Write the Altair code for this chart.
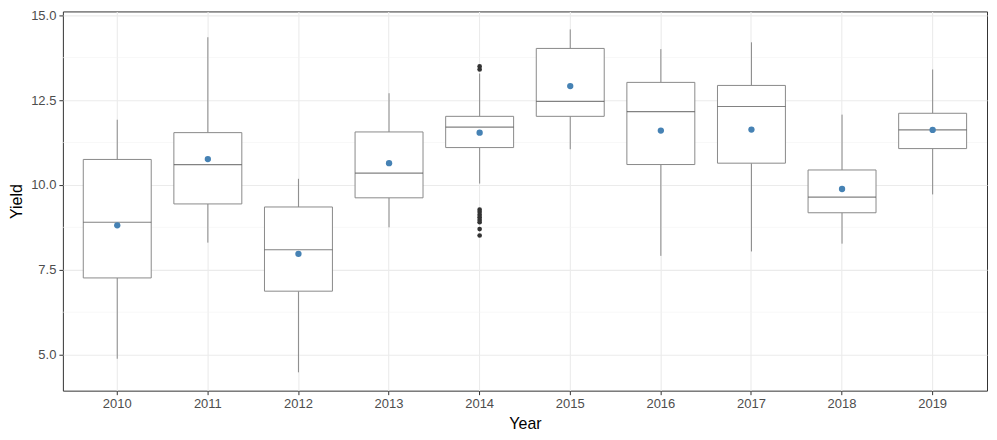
import altair as alt
import pandas as pd

years = ["2010", "2011", "2012", "2013", "2014", "2015", "2016", "2017", "2018", "2019"]
whisker_low = [4.88, 8.30, 4.48, 8.75, 10.04, 11.05, 7.91, 8.04, 8.27, 9.72]
q1 = [7.26, 9.44, 6.87, 9.62, 11.10, 12.02, 10.60, 10.64, 9.18, 11.07]
median = [8.90, 10.60, 8.09, 10.35, 11.70, 12.46, 12.16, 12.31, 9.64, 11.62]
q3 = [10.75, 11.54, 9.35, 11.56, 12.02, 14.02, 13.02, 12.93, 10.44, 12.11]
whisker_high = [11.92, 14.35, 10.18, 12.70, 13.28, 14.58, 14.00, 14.20, 12.07, 13.40]
mean = [8.81, 10.76, 7.97, 10.64, 11.54, 12.91, 11.60, 11.63, 9.88, 11.62]

outlier_year = ["2014"] * 10
outlier_value = [13.49, 13.40, 9.27, 9.20, 9.12, 9.05, 8.97, 8.90, 8.70, 8.51]

minor_breaks = [6.25, 8.75, 11.25, 13.75]
major_breaks = [5.0, 7.5, 10.0, 12.5, 15.0]

stats = pd.DataFrame({
    "Year": years, "lo": whisker_low, "q1": q1, "med": median,
    "q3": q3, "hi": whisker_high, "mean": mean,
})
outliers = pd.DataFrame({"Year": outlier_year, "Yield": outlier_value})
minor = pd.DataFrame({"v": minor_breaks})

FONT = "Liberation Sans"

x_scale = alt.Scale(domain=years, paddingInner=0, paddingOuter=0.1)
y_scale = alt.Scale(domain=[3.94, 15.11], nice=False, zero=False)

x_enc = alt.X("Year:N", scale=x_scale, sort=years,
              axis=alt.Axis(title="Year", labelAngle=0, grid=True, bandPosition=0.5,
                            tickBand="center"))
y_axis = alt.Axis(title="Yield", values=major_breaks, format=".1f", grid=True)

base = alt.Chart(stats)

minor_grid = alt.Chart(minor).mark_rule(color="#F2F2F2", strokeWidth=0.6).encode(
    y=alt.Y("v:Q", scale=y_scale, axis=y_axis)
)

whisk_up = base.mark_rule(color="#8a8a8a", strokeWidth=1).encode(
    x=x_enc,
    y=alt.Y("q3:Q", scale=y_scale, axis=y_axis),
    y2="hi:Q",
)
whisk_dn = base.mark_rule(color="#8a8a8a", strokeWidth=1).encode(
    x=x_enc,
    y=alt.Y("lo:Q", scale=y_scale, axis=y_axis),
    y2="q1:Q",
)
box = base.mark_bar(width={"band": 0.75}, fill="white", stroke="#8a8a8a",
                    strokeWidth=1).encode(
    x=x_enc,
    y=alt.Y("q1:Q", scale=y_scale, axis=y_axis),
    y2="q3:Q",
)
med = base.mark_tick(orient="horizontal", color="#4d4d4d", thickness=1.2,
                     size=68).encode(
    x=x_enc,
    y=alt.Y("med:Q", scale=y_scale, axis=y_axis),
)
outl = alt.Chart(outliers).mark_circle(color="#333333", opacity=1, size=22).encode(
    x=x_enc,
    y=alt.Y("Yield:Q", scale=y_scale, axis=y_axis),
)
mean_pt = base.mark_circle(color="#4682B4", opacity=1, size=40).encode(
    x=x_enc,
    y=alt.Y("mean:Q", scale=y_scale, axis=y_axis),
)

chart = alt.layer(minor_grid, whisk_up, whisk_dn, box, med, outl, mean_pt).properties(
    width=926, height=380,
    autosize=alt.AutoSizeParams(type="none"),
    padding={"left": 55, "top": 3, "right": 2, "bottom": 41},
).configure_view(
    stroke="#333333", strokeWidth=1
).configure_axis(
    domain=False,
    gridColor="#EBEBEB", gridWidth=1.1,
    tickColor="#333333", tickSize=4, tickWidth=1,
    labelColor="#4D4D4D", labelFont=FONT, labelFontSize=13,
    titleColor="#000000", titleFont=FONT, titleFontSize=16, titleFontWeight="normal",
    labelPadding=3,
).configure_axisX(
    titlePadding=5,
).configure_axisY(
    titlePadding=6,
)

chart.save("out.html", embed_options={"renderer": "svg", "actions": False})
